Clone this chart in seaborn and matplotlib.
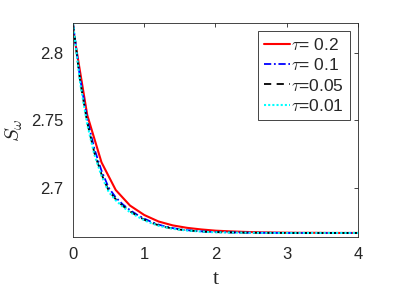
import numpy as np
import pandas as pd
import matplotlib
matplotlib.use("Agg")
import matplotlib.pyplot as plt
import seaborn as sns

# ---- data ----
t_red = [0.0, 0.2, 0.4, 0.6, 0.8, 1.0, 1.2, 1.4, 1.6, 1.8, 2.0,
         2.2, 2.4, 2.6, 2.8, 3.0, 3.2, 3.4, 3.6, 3.8, 4.0]
s_red = [2.8178, 2.7540, 2.7190, 2.6985, 2.6870, 2.6800, 2.6752, 2.6723, 2.6705, 2.6693, 2.6684,
         2.6679, 2.6675, 2.6672, 2.6670, 2.6669, 2.6668, 2.6668, 2.6667, 2.6667, 2.6667]

t_fine = [0.0, 0.1, 0.2, 0.3, 0.4, 0.5, 0.6, 0.7, 0.8, 0.9, 1.0,
          1.1, 1.2, 1.3, 1.4, 1.5, 1.6, 1.7, 1.8, 1.9, 2.0,
          2.2, 2.4, 2.6, 2.8, 3.0, 3.2, 3.4, 3.6, 3.8, 4.0]
s_blue = [2.8220, 2.7810, 2.7510, 2.7290, 2.7128, 2.7003, 2.6930, 2.6878, 2.6836, 2.6802, 2.6773,
          2.6749, 2.6729, 2.6714, 2.6703, 2.6694, 2.6688, 2.6683, 2.6679, 2.6676, 2.6674,
          2.6671, 2.6669, 2.6668, 2.6668, 2.6667, 2.6667, 2.6667, 2.6667, 2.6667, 2.6667]
s_black = [2.8220, 2.7792, 2.7484, 2.7261, 2.7102, 2.6982, 2.6917, 2.6867, 2.6827, 2.6795, 2.6765,
           2.6742, 2.6724, 2.6710, 2.6700, 2.6692, 2.6686, 2.6682, 2.6678, 2.6675, 2.6673,
           2.6671, 2.6669, 2.6668, 2.6668, 2.6667, 2.6667, 2.6667, 2.6667, 2.6667, 2.6667]
s_cyan = [2.8220, 2.7780, 2.7470, 2.7248, 2.7090, 2.6972, 2.6909, 2.6860, 2.6821, 2.6790, 2.6761,
          2.6739, 2.6721, 2.6708, 2.6698, 2.6691, 2.6685, 2.6681, 2.6677, 2.6674, 2.6672,
          2.6670, 2.6669, 2.6668, 2.6667, 2.6667, 2.6667, 2.6667, 2.6667, 2.6667, 2.6667]

labels = [r"$\tau$= 0.2", r"$\tau$= 0.1", r"$\tau$=0.05", r"$\tau$=0.01"]
x_ticks = [0, 1, 2, 3, 4]
y_ticks = [2.7, 2.75, 2.8]
y_tick_labels = ["2.7", "2.75", "2.8"]

sns.set_theme(style="white")
plt.rcParams["font.family"] = ["Liberation Sans", "DejaVu Sans"]
plt.rcParams["mathtext.fontset"] = "cm"

fig = plt.figure(figsize=(3.95, 2.96), dpi=100)
ax = fig.add_axes([0.1848, 0.1993, 0.7215, 0.7230])

sns.lineplot(x=t_red, y=s_red, ax=ax, color="#ff0000", lw=1.5, label=labels[0])
sns.lineplot(x=t_fine, y=s_blue, ax=ax, color="#0000ff", lw=1.3, label=labels[1])
sns.lineplot(x=t_fine, y=s_black, ax=ax, color="black", lw=1.3, label=labels[2])
sns.lineplot(x=t_fine, y=s_cyan, ax=ax, color="#00ffff", lw=1.5, label=labels[3])
lines = ax.get_lines()
lines[1].set_linestyle((0, (4, 1.5, 1, 1.5)))
lines[2].set_linestyle((0, (4, 3)))
lines[3].set_linestyle((0, (1, 1)))

ax.set_xlim(0, 4)
ax.set_ylim(2.6637, 2.8222)
ax.set_xticks(x_ticks)
ax.set_yticks(y_ticks)
ax.set_yticklabels(y_tick_labels)

ax.tick_params(direction="in", length=3, width=0.6, colors="#262626",
               labelsize=12, top=True, right=True, pad=7)
for sp in ax.spines.values():
    sp.set_color("#262626")
    sp.set_linewidth(0.6)

ax.set_xlabel("t", fontsize=16, family=["Liberation Serif"], labelpad=6, color="#262626")
ax.set_ylabel(r"$S_\omega$", fontsize=15, labelpad=4, color="#262626")

leg = ax.legend(loc="upper right", fontsize=12.5, frameon=True, fancybox=False,
                edgecolor="#262626", framealpha=1, handlelength=1.5,
                handletextpad=0.05, borderpad=0.35, labelspacing=0.25,
                borderaxespad=0.45)
leg.get_frame().set_linewidth(0.6)

fig.savefig("out.png", dpi=100)
